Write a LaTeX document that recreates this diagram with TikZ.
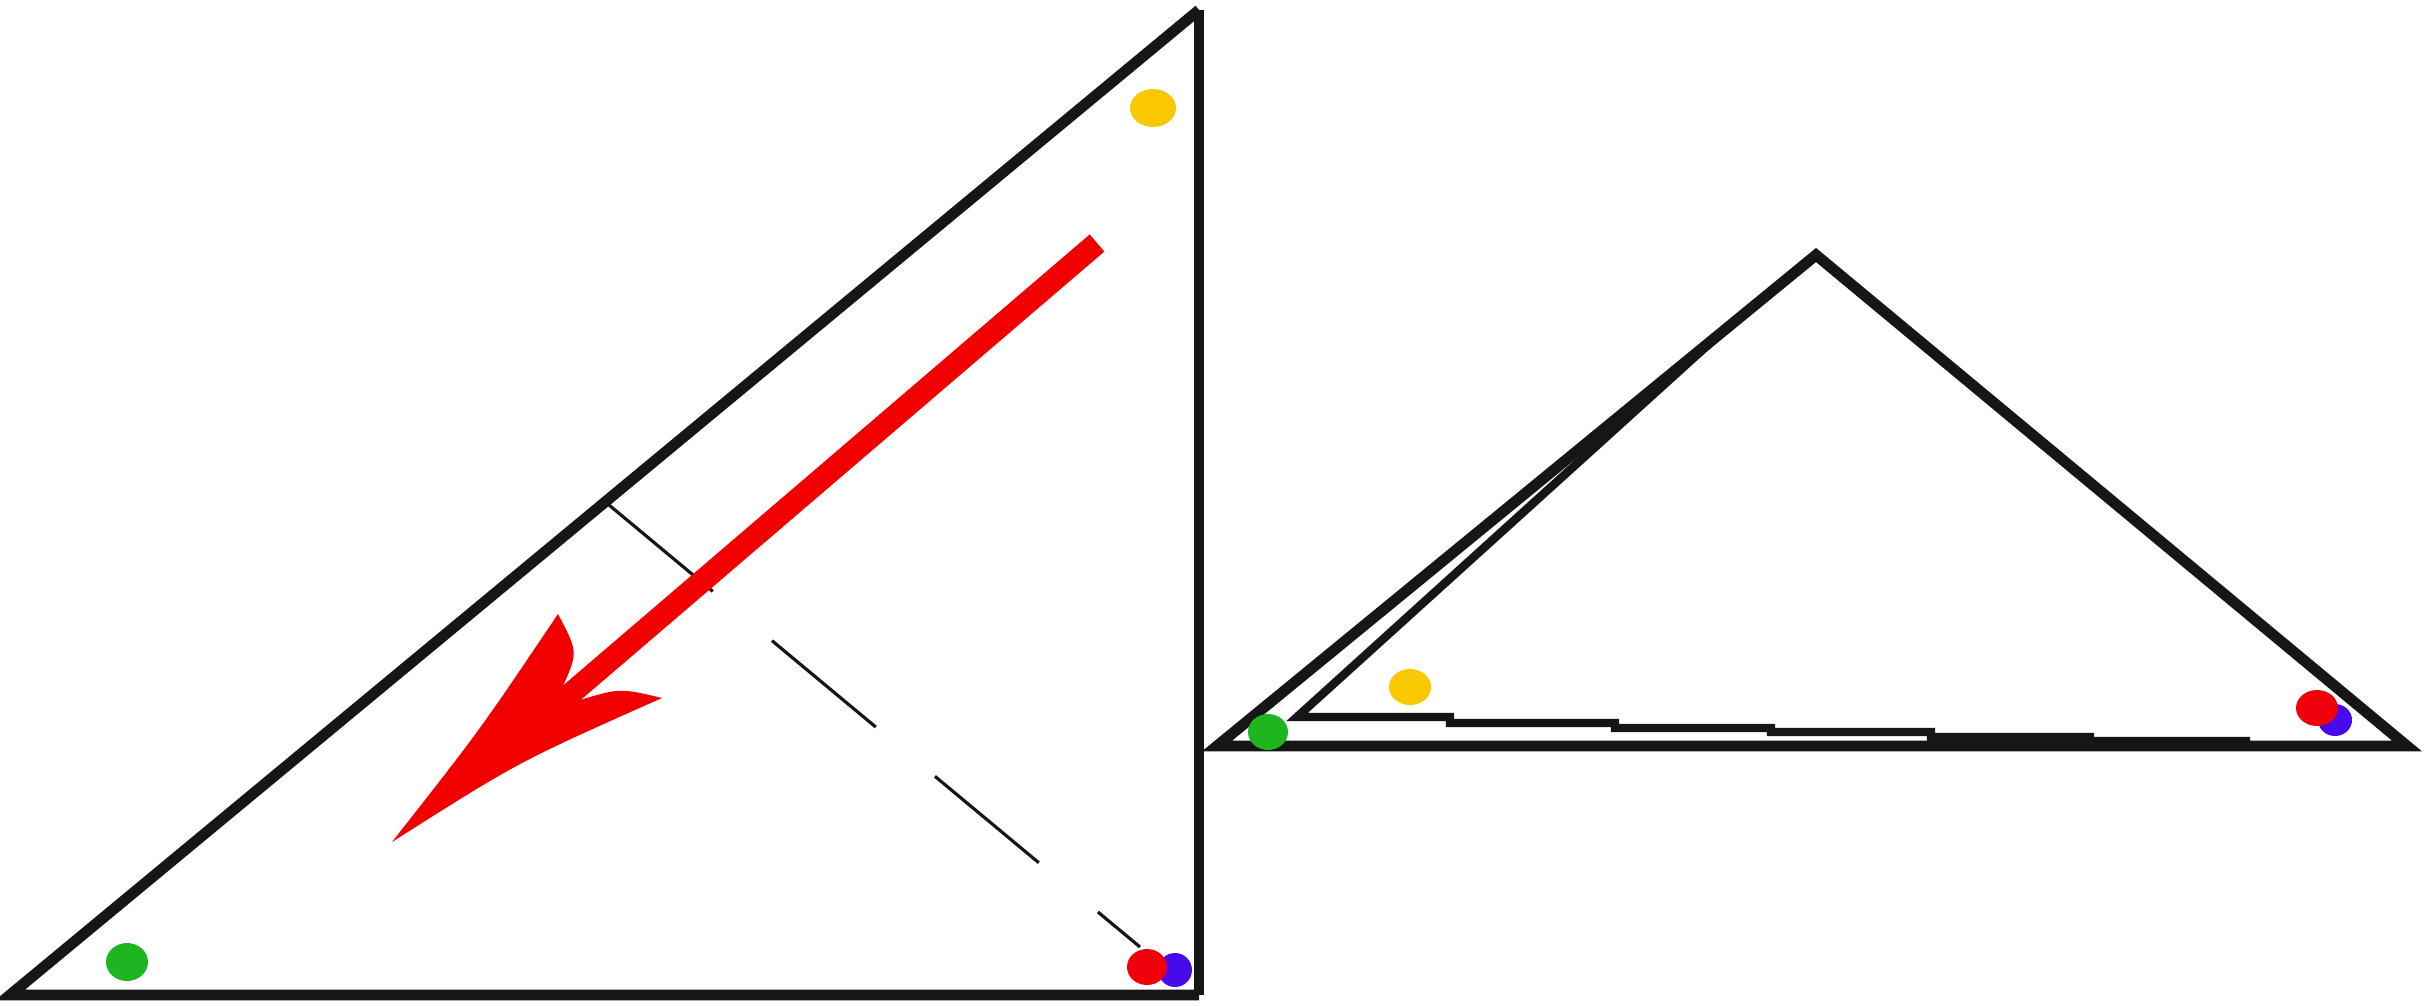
\documentclass[tikz,border=0pt]{standalone}
\definecolor{inkblack}{RGB}{22,22,22}
\definecolor{arrowred}{RGB}{242,0,0}
\definecolor{dotred}{RGB}{240,0,10}
\definecolor{dotblue}{RGB}{70,10,235}
\definecolor{dotgreen}{RGB}{30,182,30}
\definecolor{dotyellow}{RGB}{250,200,0}
\begin{document}
\begin{tikzpicture}[x=0.01cm,y=-0.01cm,
  thickedge/.style={line width=3.1pt, draw=inkblack, line join=miter},
  sideedge/.style={line width=2.6pt, draw=inkblack},
  inneredge/.style={line width=2.4pt, draw=inkblack, line join=miter},
  foldline/.style={line width=0.9pt, draw=inkblack, dash pattern=on 38.4pt off 21.9pt},
  shaftline/.style={line width=6.4pt, draw=arrowred}]
\useasboundingbox (0,0) rectangle (2430,1006);
\fill[white] (0,0) rectangle (2430,1006);

% ---- left triangle ----
\coordinate (LA) at (10,995);
\coordinate (LT) at (1199,10);
\coordinate (LC) at (1199,995);
\draw[thickedge] (LC) -- (LA) -- (LT);
\draw[sideedge] (LT) -- (LC);

% fold line (dashed)
\coordinate (D1) at (609,505);
\coordinate (D2) at (1140,947);
\draw[foldline] (D1) -- (D2);

% red arrow
\coordinate (S) at (1097,243);
\coordinate (M) at (540,720);
\coordinate (T) at (392,842);
\coordinate (LB) at (558,614);
\coordinate (RB) at (662,698);
\coordinate (LN) at (563,686);
\coordinate (RN) at (580,700);
\fill[arrowred] (T) .. controls (480,730) .. (LB)
  .. controls (578,652) .. (LN) -- (RN)
  .. controls (620,688) .. (RB)
  .. controls (518,762) .. (T) -- cycle;
\draw[shaftline] (S) -- (M);

% dots, left triangle
\fill[dotyellow] (1153,108) ellipse [x radius=23, y radius=19];
\fill[dotgreen] (127,962) ellipse [x radius=21, y radius=19];
\fill[dotblue] (1175,970) ellipse [x radius=17, y radius=17];
\fill[dotred] (1147,967) ellipse [x radius=20, y radius=18];

% ---- right triangle ----
\coordinate (RA) at (1217,746);
\coordinate (RT) at (1816,255);
\coordinate (RC) at (2407,746);
\draw[thickedge] (RA) -- (RT) -- (RC) -- cycle;

% inner (offset) outline
\coordinate (IM) at (1720,334);
\coordinate (IA) at (1297,717);
\coordinate (IE) at (2250,741);
\draw[inneredge] (IM) -- (IA) -- (1450,717) -- (1450,723) -- (1615,723)
  -- (1615,728) -- (1771,728) -- (1771,732) -- (1931,732) -- (1931,737)
  -- (2090,737) -- (2090,741) -- (IE);

% dots, right triangle
\fill[dotyellow] (1410,687) ellipse [x radius=21, y radius=18];
\fill[dotgreen] (1268,732) ellipse [x radius=20, y radius=18];
\fill[dotblue] (2335,720) ellipse [x radius=17, y radius=16];
\fill[dotred] (2317,708) ellipse [x radius=21, y radius=18];
\end{tikzpicture}
\end{document}
